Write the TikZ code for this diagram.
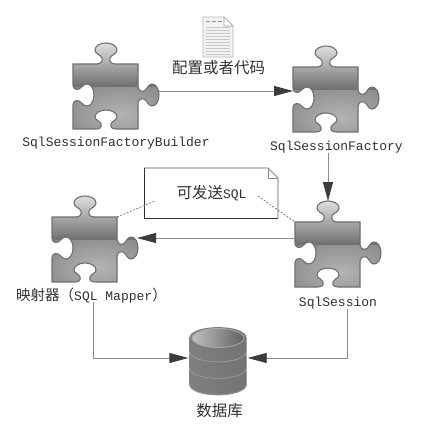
\documentclass[tikz,border=0pt]{standalone}
\usepackage{fontspec}
\setmonofont{Liberation Mono}
\newfontfamily\cjk{Noto Sans CJK SC}
\usepackage{xcolor}
\definecolor{pieceEdge}{HTML}{707070}
\definecolor{pieceTop}{HTML}{E2E2E2}
\definecolor{pieceMid}{HTML}{B8B8B8}
\definecolor{pieceDark}{HTML}{707070}
\definecolor{pieceGlow}{HTML}{B4B4B4}
\definecolor{linkGray}{HTML}{8C8C8C}
\definecolor{headDark}{HTML}{3C3C3C}
\definecolor{labelText}{HTML}{303030}
\usetikzlibrary{arrows.meta,positioning,calc}
\tikzset{
    % Text under the pieces
    codelabel/.style={font=\ttfamily\fontsize{13}{13}\selectfont, text=labelText, inner sep=0pt},
    cjklabel/.style={font=\cjk\fontsize{15.5}{15.5}\selectfont, text=labelText, inner sep=0pt},
    % Solid connector
    link/.style={-{Triangle[length=19pt,width=10pt,fill=headDark,color=headDark]}, draw=linkGray, line width=0.9pt},
    % Dotted tie to the note
    notetie/.style={draw=linkGray!80!black, dash pattern=on 2pt off 1.5pt, line width=0.7pt},
    % Puzzle piece, origin at the top left corner of its square
    puzzle/.pic={
        \def\piecepath{(0,0) -- (24,0)
            .. controls (28,0) and (30,-3) .. (29,-6)
            .. controls (28,-9) and (22,-10) .. (22,-14)
            .. controls (22,-18) and (27,-21) .. (33,-21)
            .. controls (39,-21) and (44,-18) .. (44,-14)
            .. controls (44,-10) and (38,-9) .. (37,-6)
            .. controls (36,-3) and (38,0) .. (42,0)
            -- (65,0) -- (65,22)
            .. controls (65,26) and (68,28) .. (71,27)
            .. controls (74,26) and (75,20) .. (79,20)
            .. controls (83,20) and (86,25) .. (86,31)
            .. controls (86,37) and (83,42) .. (79,42)
            .. controls (75,42) and (74,36) .. (71,35)
            .. controls (68,34) and (65,36) .. (65,40)
            -- (65,65) -- (43,65)
            .. controls (39,65) and (37,63) .. (38,60)
            .. controls (39,57) and (44,56) .. (44,53)
            .. controls (44,49) and (39,46) .. (33,46)
            .. controls (27,46) and (22,49) .. (22,53)
            .. controls (22,56) and (27,57) .. (28,60)
            .. controls (29,63) and (27,65) .. (23,65)
            -- (0,65) -- (0,41)
            .. controls (0,37) and (3,36) .. (6,37)
            .. controls (9,38) and (10,42) .. (14,42)
            .. controls (18,42) and (21,37) .. (21,31)
            .. controls (21,25) and (18,20) .. (14,20)
            .. controls (10,20) and (9,24) .. (6,25)
            .. controls (3,26) and (0,25) .. (0,21) -- cycle}
        \begin{scope}
            \clip \piecepath;
            \shade[inner color=pieceGlow, outer color=pieceDark] (-53,-6) rectangle (147,106);
            \shade[top color=pieceTop, middle color=pieceMid, bottom color=pieceDark] (-5,-22) rectangle (95,22);
        \end{scope}
        \draw[pieceEdge, line width=1.1pt] \piecepath;
        \coordinate (-nw) at (0,0);
        \coordinate (-ne) at (65,0);
        \coordinate (-knob) at (33,-21);
    },
    % One disc of the database, origin at the centre of its upper face
    dbdisc/.pic={
        \shade[left color=black!50, middle color=black!4, right color=black!55]
            (-28.5,0) -- (-28.5,13) .. controls (-28.5,27.5) and (28.5,27.5) .. (28.5,13) -- (28.5,0)
            .. controls (28.5,-14.5) and (-28.5,-14.5) .. (-28.5,0) -- cycle;
        \draw[black!42, line width=1pt]
            (-28.5,13) .. controls (-28.5,27.5) and (28.5,27.5) .. (28.5,13);
    },
    % Sheet of code
    codesheet/.pic={
        \draw[black!28, fill=black!5, line width=0.8pt] (0,0) -- (21,0) -- (30,9) -- (30,40) -- (0,40) -- cycle;
        \draw[black!35, fill=white, line width=0.6pt] (21,0) -- (21,9) -- (30,9) -- cycle;
        \foreach \ly in {10,13,...,37}
            \draw[black!22, line width=0.8pt] (3,\ly) -- (27,\ly);
        \foreach \lx in {3,9,15}
            \draw[black!45, line width=1pt] (\lx,4) -- ++(4,0);
    },
}
\begin{document}
\begin{tikzpicture}[x=1pt, y=-1pt]
    \useasboundingbox[fill=white] (0,0) rectangle (426,431);

    \pic (builder) at (73,64) {puzzle};
    \pic (factory) at (293,67) {puzzle};
    \pic (mapper) at (52,217) {puzzle};
    \pic (session) at (295,222) {puzzle};

    % Labels
    \node (builderlabel) [codelabel] at (116,143) {SqlSessionFactoryBuilder};
    \node (factorylabel) [codelabel] at (336.5,147) {SqlSessionFactory};
    \node (sessionlabel) [codelabel] at (338,303) {SqlSession};
    \node (mapperlabel) [codelabel] at (91.5,296) {{\cjk\fontsize{14.5}{14.5}\selectfont 映射器（}SQL Mapper{\cjk\fontsize{14.5}{14.5}\selectfont ）}};
    \node (codelabel) [cjklabel] at (218.5,68) {配置或者代码};
    \node (dblabel) [cjklabel] at (219.5,411) {数据库};

    % Sheet above the first arrow
    \pic (sheet) at (203,17) {codesheet};

    % Note
    \fill[white] (144,168) -- (268,168) -- (278,178) -- (278,218) -- (144,218) -- cycle;
    \draw[linkGray!80, line width=1.1pt] (144,168) -- (268,168) -- (278,178) -- (278,218);
    \draw[labelText, line width=0.7pt] (144,168) -- (144,218) -- (278,218);
    \draw[linkGray, line width=0.7pt] (268,168) -- (268,178) -- (278,178);
    \node (note) [cjklabel] at (211.5,193) {可发送{\ttfamily\fontsize{13}{13}\selectfont SQL}};
    \coordinate (noteleft) at (155,201);
    \coordinate (noteright) at (258,196);
    \draw[notetie] (mapper-ne) -- (noteleft);
    \draw[notetie] (noteright) -- (session-nw);

    % Database
    \foreach \dy in {33,16.5,0}
        \pic at (218,338+\dy) {dbdisc};
    \shade[left color=black!25, right color=black!62, draw=black!35, line width=0.9pt]
        (218,338) ellipse [x radius=26, y radius=9.5];
    \node (db) [minimum width=59pt, minimum height=60pt, inner sep=0pt] at (218,358) {};

    % Connectors
    \coordinate (builderout) at (159,91);
    \coordinate (factoryin) at (293,91);
    \coordinate (sessionout) at (295,238);
    \coordinate (mapperin) at (137,238);
    \coordinate (mapperdown) at (93,302);
    \coordinate (sessiondown) at (347,309);
    \draw[link] (builderout) -- (factoryin);
    \draw[link] (factorylabel.south -| session-knob) -- (session-knob);
    \draw[link] (sessionout) -- (mapperin);
    \draw[link] (mapperdown) |- (db);
    \draw[link] (sessiondown) |- (db);
\end{tikzpicture}
\end{document}
